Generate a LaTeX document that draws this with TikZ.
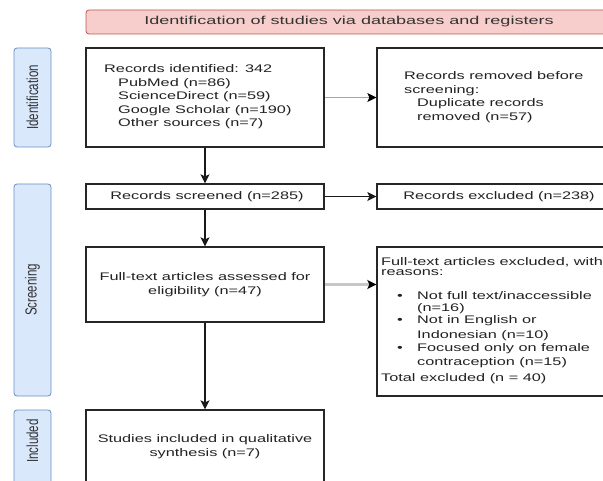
\documentclass[tikz,border=0pt]{standalone}
\usepackage{fontspec}
\setmainfont{Liberation Sans}[FakeStretch=1.48]
\newfontfamily\bannerfont{Liberation Sans}[FakeStretch=1.57]
\newfontfamily\sidefont{Liberation Sans}[FakeStretch=0.72]
\usetikzlibrary{arrows.meta}
\definecolor{bannerfill}{HTML}{F8CECC}
\definecolor{bannerdraw}{HTML}{B85450}
\definecolor{sidefill}{HTML}{DAE8FC}
\definecolor{sidedraw}{HTML}{6C8EBF}
\definecolor{txt}{HTML}{222222}
\begin{document}
\begin{tikzpicture}[x=1pt,y=-1pt,
  box/.style={draw=black!85, line width=1.3pt, fill=white, inner sep=0pt, text=txt,
    font=\fontsize{11}{13.5}\selectfont},
  txtnode/.style={inner sep=0pt, text=txt, align=left, font=\fontsize{11}{13.5}\selectfont},
  banner/.style={draw=bannerdraw, fill=bannerfill, rounded corners=3pt, line width=0.8pt,
    inner sep=0pt, text=black!80, font=\bannerfont\fontsize{11.5}{13}\selectfont},
  side/.style={draw=sidedraw, fill=sidefill, rounded corners=3pt, line width=0.8pt,
    inner sep=0pt, minimum width=37pt},
  sidetext/.style={rotate=90, inner sep=0pt, text=black!80, font=\sidefont\fontsize{16}{18}\selectfont},
  arr/.style={line width=1.3pt, draw=black!90, -{Stealth[length=9pt,width=9pt,inset=2pt]}},
  arrgray/.style={line width=1pt, draw=black!35, -{Stealth[length=9pt,width=9pt,inset=2pt,color=black]}},
  arrlight/.style={line width=2.2pt, draw=black!22, -{Stealth[length=9pt,width=9pt,inset=2pt,color=black]}}
]
\useasboundingbox (0,0) rectangle (603,481);
\clip (0,0) rectangle (603,481);

% banner
\node[banner, minimum width=526pt, minimum height=24pt] (ban) at (349,22)
  {Identification of studies via databases and registers};

% side labels
\node[side, minimum height=99pt] (l1) at (32.5,97.5) {};
\node[sidetext] (l1t) at (l1.center) {Identification};
\node[side, minimum height=212pt] (l2) at (32.5,290) {};
\node[sidetext] (l2t) at (l2.center) {Screening};
\node[side, minimum height=76pt] (l3) at (32.5,448) {};
\node[sidetext] (l3t) at (32.5,441) {Included};

% boxes
\node[box, minimum width=238pt, minimum height=99pt] (b1) at (205,97.5) {};
\node[txtnode, anchor=west] (b1t) at (104,97)
  {Records identified: 342\\
   \hspace*{14pt}PubMed (n=86)\\
   \hspace*{14pt}ScienceDirect (n=59)\\
   \hspace*{14pt}Google Scholar (n=190)\\
   \hspace*{14pt}Other sources (n=7)};
\node[box, minimum width=244pt, minimum height=99pt] (b2) at (499,97.5) {};
\node[txtnode, anchor=west] (b2t) at (404,97)
  {Records removed before\\
   screening:\\
   \hspace*{13pt}Duplicate records\\
   \hspace*{13pt}removed (n=57)};

\node[box, minimum width=238pt, minimum height=25pt] (b3) at (205,196.5)
  {\hspace*{4pt}Records screened (n=285)};
\node[box, minimum width=244pt, minimum height=25pt] (b4) at (499,196.5)
  {Records excluded (n=238)};

\node[box, minimum width=238pt, minimum height=75pt, align=center] (b5) at (205,284.5)
  {Full-text articles assessed for\\eligibility (n=47)};
\node[box, minimum width=244pt, minimum height=149pt] (b6) at (499,321.5) {};
\node[txtnode, anchor=north west] (b6t) at (381,257)
  {Full-text articles excluded, with\\[-3.5pt]
   reasons:\\[10.5pt]
   \hspace*{16pt}\makebox[20pt][l]{\textbullet}Not full text/inaccessible\\[-1.5pt]
   \hspace*{36pt}(n=16)\\[-1.5pt]
   \hspace*{16pt}\makebox[20pt][l]{\textbullet}Not in English or\\[1.5pt]
   \hspace*{36pt}Indonesian (n=10)\\[-0.5pt]
   \hspace*{16pt}\makebox[20pt][l]{\textbullet}Focused only on female\\[0.5pt]
   \hspace*{36pt}contraception (n=15)\\[2.5pt]
   Total excluded (n = 40)};

\node[box, minimum width=238pt, minimum height=73pt, align=center] (b7) at (205,446.5)
  {Studies included in qualitative\\synthesis (n=7)};

% connectors
\draw[arrgray] (b1.east) -- (b2.west);
\draw[arr] (b1.south) -- (b3.north);
\draw[arr] (b3.east) -- (b4.west);
\draw[arr] (b3.south) -- (b5.north);
\draw[arrlight] (b5.east) -- (b5.east -| b6.west);
\draw[arr] (b5.south) -- (b7.north);
\end{tikzpicture}
\end{document}
